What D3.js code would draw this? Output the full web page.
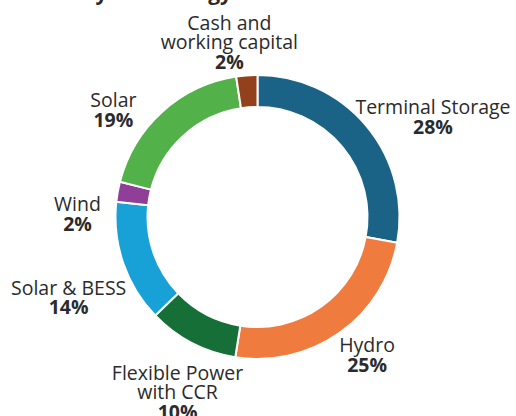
<!DOCTYPE html>
<html>
<head>
<meta charset="utf-8">
<script src="https://cdn.jsdelivr.net/npm/d3@7"></script>
<style>
  body { margin: 0; background: #fff; }
  text { font-family: "Open Sans", sans-serif; fill: #2b2b2b; }
</style>
</head>
<body>
<div id="chart"></div>
<script>
const width = 516;
const height = 416;

// data, clockwise from 12 o'clock
const categories = ["Terminal Storage", "Hydro", "Flexible Power with CCR", "Solar & BESS", "Wind", "Solar", "Cash and working capital"];
const labelLines = [["Terminal Storage"], ["Hydro"], ["Flexible Power", "with CCR"], ["Solar & BESS"], ["Wind"], ["Solar"], ["Cash and", "working capital"]];
const shares = [27.9, 24.6, 10.3, 13.9, 2.3, 18.6, 2.4];
const shareLabels = ["28%", "25%", "10%", "14%", "2%", "19%", "2%"];
const colors = ["#1b6386", "#f07b3f", "#156f37", "#17a1d7", "#8f3f98", "#52b148", "#93401d"];

// label nudges from the label arc (layout only)
const labelNudge = [[31, 22], [1, -14], [7, 10], [-11, 21], [5, 32], [-18, 34], [-14, 14]];

const cx = 257.5, cy = 217;
const innerR = 110, outerR = 142, labelR = 188;
const lineH = 19.5;
const fontSize = "19.5px";

const svg = d3.select("#chart")
  .append("svg")
  .attr("width", width)
  .attr("height", height);

// title, cut off by the top edge
svg.append("text")
  .attr("x", 232)
  .attr("y", 0)
  .attr("text-anchor", "end")
  .style("font-weight", 700)
  .style("font-size", "21px")
  .text("Investment by Technology");

const data = categories.map((c, i) => ({ name: c, value: shares[i], i }));

const pie = d3.pie()
  .sort(null)
  .value(d => d.value);

const arc = d3.arc()
  .innerRadius(innerR)
  .outerRadius(outerR);

const labelArc = d3.arc()
  .innerRadius(labelR)
  .outerRadius(labelR);

const g = svg.append("g")
  .attr("transform", `translate(${cx},${cy})`);

const arcs = pie(data);

g.selectAll("path")
  .data(arcs)
  .enter()
  .append("path")
  .attr("d", arc)
  .attr("fill", d => colors[d.data.i])
  .attr("stroke", "#fff")
  .attr("stroke-width", 2);

const labels = g.selectAll("g.label")
  .data(arcs)
  .enter()
  .append("g")
  .attr("class", "label")
  .attr("transform", d => {
    const [x, y] = labelArc.centroid(d);
    const [nx, ny] = labelNudge[d.data.i];
    return `translate(${x + nx},${y + ny})`;
  });

labels.each(function (d) {
  const lines = labelLines[d.data.i].concat([shareLabels[d.data.i]]);
  const n = lines.length;
  const sel = d3.select(this);
  lines.forEach((t, k) => {
    sel.append("text")
      .attr("text-anchor", "middle")
      .attr("y", (k - (n - 1) / 2) * lineH + 5.5)
      .style("font-size", fontSize)
      .style("font-weight", k === n - 1 ? 700 : 400)
      .text(t);
  });
});
</script>
</body>
</html>
